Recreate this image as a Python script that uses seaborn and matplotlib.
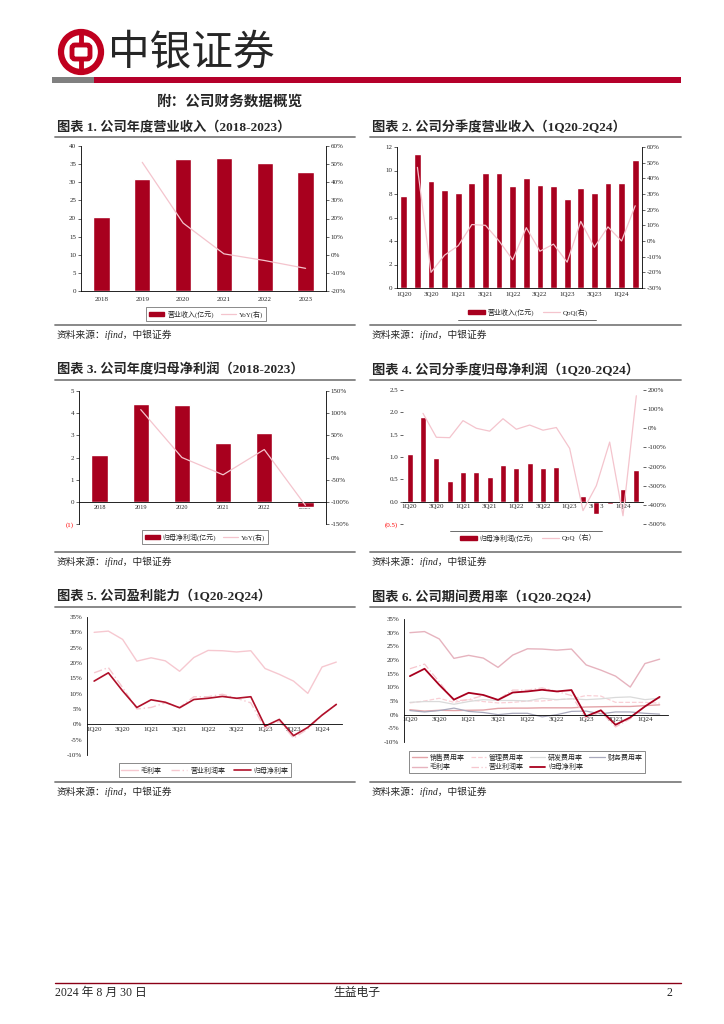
import numpy as np
import seaborn as sns
import matplotlib.pyplot as plt
from matplotlib.patches import Patch, Circle, FancyBboxPatch
from matplotlib.lines import Line2D
from matplotlib.ticker import FuncFormatter

sns.set_style('white')
plt.rcParams['font.family'] = ['Liberation Serif', 'Noto Sans CJK SC', 'DejaVu Sans']
plt.rcParams['axes.unicode_minus'] = False

# ---- data ----
years = ['2018', '2019', '2020', '2021', '2022', '2023']
rev_year = [20.5, 31.0, 36.4, 36.6, 35.4, 32.9]
rev_yoy = [np.nan, 51.0, 17.5, 0.5, -3.2, -7.5]

quarters = ['1Q20', '2Q20', '3Q20', '4Q20', '1Q21', '2Q21', '3Q21', '4Q21', '1Q22',
            '2Q22', '3Q22', '4Q22', '1Q23', '2Q23', '3Q23', '4Q23', '1Q24', '2Q24']
rev_q = [7.8, 11.4, 9.1, 8.3, 8.1, 8.9, 9.8, 9.8, 8.7, 9.4, 8.8, 8.7, 7.6, 8.5, 8.1, 8.9, 8.9, 10.9]
rev_qoq = [np.nan, 47.0, -20.0, -9.0, -3.0, 10.5, 10.0, 0.0, -12.0, 8.5, -6.5, -2.0,
           -13.5, 12.5, -4.0, 9.0, 0.0, 22.5]

np_year = [2.1, 4.4, 4.38, 2.65, 3.12, -0.25]
np_yoy = [np.nan, 108.0, 0.0, -39.0, 18.0, -108.0]

np_q = [1.07, 1.90, 0.97, 0.46, 0.66, 0.66, 0.55, 0.82, 0.75, 0.87, 0.75, 0.77,
        -0.04, 0.13, -0.28, -0.06, 0.28, 0.70]
np_qoq = [np.nan, 78.0, -47.0, -49.0, 40.0, 0.0, -15.0, 50.0, -5.0, 17.0, -10.0, 4.0,
          -105.0, -430.0, -300.0, -72.0, -457.0, 170.0]

gross_m = [30.0, 30.4, 27.7, 20.6, 21.7, 20.7, 17.3, 21.8, 24.1, 24.0, 23.6, 24.0,
           18.2, 16.3, 14.1, 10.1, 18.7, 20.3]
op_m = [16.8, 18.5, 12.0, 5.0, 5.5, 7.0, 5.5, 9.0, 9.0, 9.8, 8.5, 7.0,
        -1.5, 1.0, -4.5, -1.5, 3.0, 6.5]
net_m = [14.1, 16.8, 10.9, 5.5, 8.0, 7.2, 5.4, 8.1, 8.5, 9.1, 8.5, 9.0,
         -0.6, 1.6, -3.7, -1.0, 3.0, 6.5]
sell_r = [1.8, 1.3, 1.6, 1.5, 1.6, 1.7, 2.3, 2.4, 2.4, 2.5, 2.5, 2.5, 2.8, 2.9, 3.0, 3.0, 3.3, 3.6]
admin_r = [4.3, 5.0, 6.0, 4.5, 5.5, 4.8, 4.3, 4.5, 5.0, 5.0, 5.5, 5.8, 7.0, 6.8, 4.5, 4.5, 4.5, 4.2]
rd_r = [4.5, 4.8, 4.8, 3.8, 4.8, 5.5, 5.2, 5.2, 5.0, 6.0, 5.5, 5.8, 5.5, 5.8, 6.3, 6.5, 5.5, 6.0]
fin_r = [1.5, 1.0, 1.5, 2.4, 1.2, 0.8, 0.0, 0.5, 0.5, -0.8, 0.0, 1.2, 1.3, 0.3, 1.0, 1.0, 0.5, 0.2]

RED = '#A8001E'
PINK = '#F4C4CD'
W, H = 724, 1024


def rect(l, t, r, b):
    return [l / W, 1 - b / H, (r - l) / W, (b - t) / H]


pct = FuncFormatter(lambda v, p: f'{v:.0f}%')

fig = plt.figure(figsize=(7.24, 10.24), dpi=100)

# page furniture
page = fig.add_axes([0, 0, 1, 1])
page.set_xlim(0, W)
page.set_ylim(H, 0)
page.axis('off')

page.add_patch(Circle((81, 52), 20, fill=False, ec='#C0001F', lw=4.5))
page.add_patch(FancyBboxPatch((72, 45), 18, 14, boxstyle='round,pad=0,rounding_size=3',
                              fill=False, ec='#C0001F', lw=3.5))
page.plot([81, 81], [32, 45], color='#C0001F', lw=3.5, solid_capstyle='butt')
page.plot([81, 81], [59, 72], color='#C0001F', lw=3.5, solid_capstyle='butt')
page.text(108, 53, '中银证券', fontsize=30, va='center', ha='left', weight='light',
          family=['Noto Sans CJK SC'])
page.fill_between([52, 94], 77, 83, color='#808080', lw=0)
page.fill_between([94, 681], 77, 83, color='#B5002A', lw=0)
page.text(157, 102, '附：公司财务数据概览', fontsize=10.5, weight='bold', va='center')

titles = [(57, 127, '图表 1. 公司年度营业收入（2018-2023）'),
          (372, 127, '图表 2. 公司分季度营业收入（1Q20-2Q24）'),
          (57, 370, '图表 3. 公司年度归母净利润（2018-2023）'),
          (372, 370, '图表 4. 公司分季度归母净利润（1Q20-2Q24）'),
          (57, 597, '图表 5. 公司盈利能力（1Q20-2Q24）'),
          (372, 597, '图表 6. 公司期间费用率（1Q20-2Q24）')]
for x, y, t in titles:
    page.text(x, y, t, fontsize=9.5, weight='bold', va='center')
for y in [137, 380, 607]:
    page.plot([55, 355], [y, y], color='#7F7F7F', lw=1.3)
    page.plot([370, 681], [y, y], color='#7F7F7F', lw=1.3)
for y in [325, 552, 782]:
    page.plot([55, 355], [y, y], color='#7F7F7F', lw=1.3)
    page.plot([370, 681], [y, y], color='#7F7F7F', lw=1.3)
    page.text(57, y + 10, '资料来源：ifind，中银证券', fontsize=7, style='italic', va='center')
    page.text(372, y + 10, '资料来源：ifind，中银证券', fontsize=7, style='italic', va='center')

page.plot([55, 681], [983, 983], color='#8B0016', lw=1)
page.text(55, 993, '2024 年 8 月 30 日', fontsize=8.5, va='center')
page.text(357, 993, '生益电子', fontsize=8.5, va='center', ha='center')
page.text(672, 993, '2', fontsize=8.5, va='center', ha='right')


def style_ax(ax, spines=('left', 'bottom')):
    for s in ['left', 'right', 'top', 'bottom']:
        ax.spines[s].set_visible(s in spines)
        ax.spines[s].set_linewidth(0.6)
        ax.spines[s].set_color('black')
    ax.tick_params(labelsize=5, length=2, width=0.5, pad=1.5, direction='out')
    ax.set_xlabel('')
    ax.set_ylabel('')


def legend(ax, handles, labels, cx, cy, frame=True, ncol=None, hl=2.4, cs=1.3):
    lg = ax.legend(handles, labels, loc='center', bbox_to_anchor=(cx / W, 1 - cy / H),
                   bbox_transform=fig.transFigure, ncol=ncol or len(handles), fontsize=5,
                   frameon=frame, fancybox=False, handlelength=hl, columnspacing=cs,
                   borderpad=0.4, handletextpad=0.4, labelspacing=0.3)
    if frame:
        lg.get_frame().set_edgecolor('#555555')
        lg.get_frame().set_linewidth(0.6)


# ---- chart 1 ----
ax1 = fig.add_axes(rect(81, 146, 326, 291))
sns.barplot(x=years, y=rev_year, color=RED, saturation=1, width=0.4, ax=ax1)
ax1.set_ylim(0, 40)
ax1.set_yticks(range(0, 41, 5))
ax1.set_xlim(-0.5, 5.5)
ax1.set_xticks(np.arange(0.5, 5, 1), minor=True)
t1 = ax1.twinx()
sns.lineplot(x=np.arange(6), y=rev_yoy, color=PINK, lw=0.9, ax=t1)
t1.set_ylim(-20, 60)
t1.set_yticks(range(-20, 61, 10))
t1.yaxis.set_major_formatter(pct)
style_ax(ax1, ('left', 'bottom'))
style_ax(t1, ('right',))
ax1.tick_params(axis='x', length=0, pad=4)
ax1.tick_params(axis='x', which='minor', length=2, width=0.5)
legend(ax1, [Patch(color=RED), Line2D([], [], color=PINK, lw=0.9)],
       ['营业收入(亿元)', 'YoY(右)'], 206, 314, hl=2.2, cs=1.0)

# ---- chart 2 ----
ax2 = fig.add_axes(rect(397, 147, 642, 288))
sns.barplot(x=quarters, y=rev_q, color=RED, saturation=1, width=0.5, ax=ax2)
ax2.set_ylim(0, 12)
ax2.set_yticks(range(0, 13, 2))
ax2.set_xlim(-0.5, 17.5)
ax2.set_xticks(range(0, 18, 2))
ax2.set_xticklabels(quarters[::2])
t2 = ax2.twinx()
sns.lineplot(x=np.arange(18), y=rev_qoq, color=PINK, lw=0.9, ax=t2)
t2.set_ylim(-30, 60)
t2.set_yticks(range(-30, 61, 10))
t2.yaxis.set_major_formatter(pct)
style_ax(ax2, ('left', 'bottom'))
style_ax(t2, ('right',))
ax2.tick_params(axis='x', length=0, pad=3)
legend(ax2, [Patch(color=RED), Line2D([], [], color=PINK, lw=0.9)],
       ['营业收入(亿元)', 'QoQ(右)'], 528, 312, frame=False)
page.plot([458, 596], [320, 320], color='#555555', lw=0.6)

# ---- chart 3 ----
ax3 = fig.add_axes(rect(79, 391, 326, 524))
sns.barplot(x=years, y=np_year, color=RED, saturation=1, width=0.4, ax=ax3)
ax3.set_ylim(-1, 5)
ax3.set_yticks(range(-1, 6))
ax3.set_yticklabels(['(1)', '0', '1', '2', '3', '4', '5'])
ax3.get_yticklabels()[0].set_color('red')
ax3.set_xlim(-0.5, 5.5)
ax3.set_xticks(np.arange(0.5, 5, 1), minor=True)
ax3.spines['bottom'].set_position(('data', 0))
t3 = ax3.twinx()
sns.lineplot(x=np.arange(6), y=np_yoy, color=PINK, lw=0.9, ax=t3)
t3.set_ylim(-150, 150)
t3.set_yticks(range(-150, 151, 50))
t3.yaxis.set_major_formatter(pct)
style_ax(ax3, ('left', 'bottom'))
style_ax(t3, ('right',))
ax3.tick_params(axis='x', length=0, pad=2, labelsize=4.5)
ax3.tick_params(axis='x', which='minor', length=2, width=0.5)
legend(ax3, [Patch(color=RED), Line2D([], [], color=PINK, lw=0.9)],
       ['归母净利润(亿元)', 'YoY(右)'], 205, 537, hl=2.2, cs=1.0)

# ---- chart 4 ----
ax4 = fig.add_axes(rect(403, 390, 643, 524))
sns.barplot(x=quarters, y=np_q, color=RED, saturation=1, width=0.45, ax=ax4)
ax4.set_ylim(-0.5, 2.5)
ax4.set_yticks(np.arange(-0.5, 2.6, 0.5))
ax4.set_yticklabels(['(0.5)', '0.0', '0.5', '1.0', '1.5', '2.0', '2.5'])
ax4.get_yticklabels()[0].set_color('red')
ax4.set_xlim(-0.5, 17.5)
ax4.set_xticks(range(0, 18, 2))
ax4.set_xticklabels(quarters[::2])
ax4.spines['bottom'].set_position(('data', 0))
t4 = ax4.twinx()
sns.lineplot(x=np.arange(18), y=np_qoq, color=PINK, lw=0.9, ax=t4)
t4.set_ylim(-500, 200)
t4.set_yticks(range(-500, 201, 100))
t4.yaxis.set_major_formatter(pct)
style_ax(ax4, ('bottom',))
style_ax(t4, ())
ax4.tick_params(axis='x', length=0, pad=2)
legend(ax4, [Patch(color=RED), Line2D([], [], color=PINK, lw=0.9)],
       ['归母净利润(亿元)', 'QoQ（右）'], 528, 538, frame=False)
page.plot([450, 602], [531, 531], color='#555555', lw=0.6)

# ---- chart 5 ----
ax5 = fig.add_axes(rect(87, 617, 342, 755))
x = np.arange(18)
sns.lineplot(x=x, y=gross_m, color='#F6C8D0', lw=1.0, ax=ax5)
sns.lineplot(x=x, y=op_m, color='#F6C8D0', lw=1.0, ls=(0, (6, 2, 1, 2)), ax=ax5)
sns.lineplot(x=x, y=net_m, color='#B0102A', lw=1.2, ax=ax5)
ax5.set_ylim(-10, 35)
ax5.set_yticks(range(-10, 36, 5))
ax5.yaxis.set_major_formatter(pct)
ax5.set_xlim(-0.5, 17.4)
ax5.set_xticks(range(0, 18, 2))
ax5.set_xticklabels(quarters[::2])
ax5.set_xticks(range(18), minor=True)
ax5.spines['bottom'].set_position(('data', 0))
style_ax(ax5, ('left', 'bottom'))
ax5.tick_params(axis='x', length=0, pad=2)
ax5.tick_params(axis='x', which='minor', length=2, width=0.5)
legend(ax5, [Line2D([], [], color='#F6C8D0', lw=1.0),
             Line2D([], [], color='#F6C8D0', lw=1.0, ls=(0, (6, 2, 1, 2))),
             Line2D([], [], color='#B0102A', lw=1.2)],
       ['毛利率', '营业利润率', '归母净利率'], 205, 770)

# ---- chart 6 ----
ax6 = fig.add_axes(rect(404, 619, 668, 742))
series6 = [(sell_r, '销售费用率', '#E3A3A8', '-', 1.0),
           (admin_r, '管理费用率', '#F9D0D6', '--', 0.9),
           (rd_r, '研发费用率', '#DADADA', '-', 0.9),
           (fin_r, '财务费用率', '#A9A9BC', '-', 0.9),
           (gross_m, '毛利率', '#E6B3BE', '-', 1.0),
           (op_m, '营业利润率', '#F6C6CE', (0, (6, 2, 1, 2)), 0.9),
           (net_m, '归母净利率', '#A8001E', '-', 1.3)]
handles, labels = [], []
for vals, name, c, ls, lw in series6:
    sns.lineplot(x=x, y=vals, color=c, ls=ls, lw=lw, ax=ax6)
    handles.append(Line2D([], [], color=c, ls=ls, lw=lw))
    labels.append(name)
ax6.set_ylim(-10, 35)
ax6.set_yticks(range(-10, 36, 5))
ax6.yaxis.set_major_formatter(pct)
ax6.set_xlim(-0.4, 17.57)
ax6.set_xticks(range(0, 18, 2))
ax6.set_xticklabels(quarters[::2])
ax6.spines['bottom'].set_position(('data', 0))
style_ax(ax6, ('left', 'bottom'))
ax6.tick_params(axis='x', length=0, pad=2)
order = [0, 4, 1, 5, 2, 6, 3]
legend(ax6, [handles[i] for i in order], [labels[i] for i in order], 527, 762, ncol=4,
       hl=2.2, cs=0.9)

fig.savefig('out.png', dpi=100)
